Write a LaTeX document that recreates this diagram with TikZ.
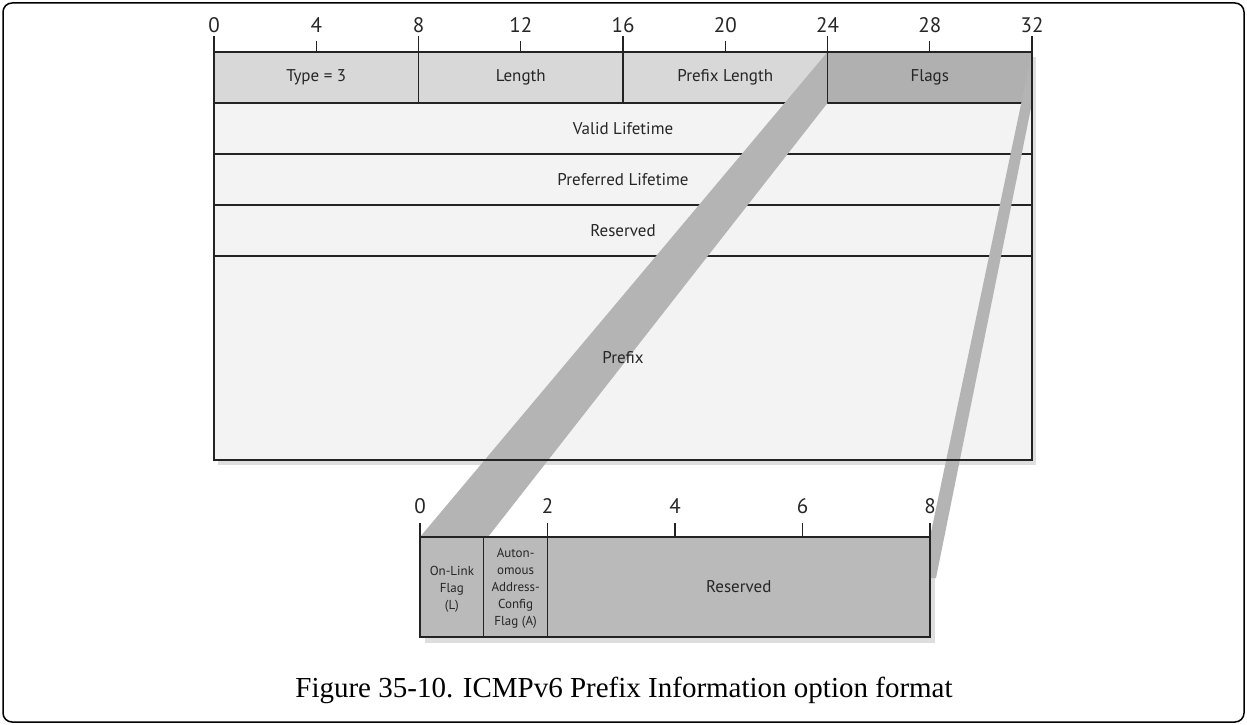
\documentclass[tikz,border=0pt]{standalone}
\usepackage{fontspec}
\setmainfont{Liberation Serif}
\newfontfamily\diagfont{PT Sans}
\definecolor{linec}{RGB}{35,35,35}
\definecolor{hdrfill}{RGB}{216,216,216}
\definecolor{flagfill}{RGB}{176,176,176}
\definecolor{rowfill}{RGB}{243,243,243}
\definecolor{bandfill}{RGB}{180,180,180}
\definecolor{botfill}{RGB}{186,186,186}
\definecolor{shadowc}{RGB}{222,222,222}
\begin{document}
\begin{tikzpicture}[x=1pt,y=-1pt,
  cellbox/.style={draw=linec, line width=1.1pt, inner sep=0pt, outer sep=0pt,
    font=\diagfont\fontsize{17}{20}\selectfont, text=black!85},
  hdrcell/.style={cellbox, fill=hdrfill, minimum height=51pt},
  rowcell/.style={cellbox, fill=rowfill, minimum width=818pt},
  rowlab/.style={font=\diagfont\fontsize{17}{20}\selectfont, text=black!85, inner sep=0pt},
  botcell/.style={cellbox, fill=botfill, minimum height=100pt},
  smalltxt/.style={font=\diagfont\fontsize{13}{17}\selectfont, align=center, text=black!85},
  ticklab/.style={font=\diagfont\fontsize{21}{24}\selectfont, text=black!85, inner sep=0pt},
  ticklin/.style={draw=linec, line width=1.4pt},
  band/.style={fill=bandfill, draw=none},
  shadowbox/.style={fill=shadowc, draw=none}]
\useasboundingbox (0,0) rectangle (1247,725);
% outer frame
\draw[line width=1.5pt, rounded corners=9pt] (3,3) rectangle (1244,722);

% shadows
\fill[shadowbox] (218,57) rectangle (1036,465);
\fill[shadowbox] (425,542) rectangle (935,643);

% top header cells
\node[hdrcell, minimum width=204.5pt] (type) at (316.25,77.5) {Type = 3};
\node[hdrcell, minimum width=204.5pt] (len) at (520.75,77.5) {Length};
\node[hdrcell, minimum width=204.5pt] (plen) at (725.25,77.5) {Prefix Length};
\node[hdrcell, fill=flagfill, minimum width=204.5pt] (flags) at (929.75,77.5) {Flags};
% rows
\node[rowcell, minimum height=51pt] (valid) at (623,128.5) {};
\node[rowcell, minimum height=51pt] (pref) at (623,179.5) {};
\node[rowcell, minimum height=51pt] (resv) at (623,230.5) {};
\node[rowcell, minimum height=204pt] (prefix) at (623,358) {};

% bottom cell coordinates (for bands)
\coordinate (lnw) at (420,537);
\coordinate (anw) at (488,537);
\coordinate (rne) at (930,537);
\coordinate (tip) at (936,578);
\coordinate (tipb) at (930,578);

% bands
\fill[band] (flags.north west) -- (flags.south west) -- (anw) -- (lnw) -- cycle;
\fill[band] (flags.north east) -- (flags.south east) -- (tip) -- (tipb) -- (rne) -- cycle;

% row labels above the bands
\node[rowlab] (validl) at (valid.center) {Valid Lifetime};
\node[rowlab] (prefl) at (pref.center) {Preferred Lifetime};
\node[rowlab] (resvl) at (resv.center) {Reserved};
\node[rowlab] (prefixl) at (prefix.center) {Prefix};

% redraw lines on top of bands
\draw[linec, line width=1.1pt] (flags.north west) -- (flags.south west);
\draw[linec, line width=1.6pt] (type.north west) -- (flags.north east) -- (prefix.south east) -- (prefix.south west) -- cycle;

% top ticks
\foreach \b in {0,8,16,24,32} {
  \draw[ticklin] ({214+25.5625*\b},36) -- ({214+25.5625*\b},52);
  \node[ticklab] (tl\b) at ({214+25.5625*\b},25) {\b};
}
\foreach \b in {4,12,20,28} {
  \draw[ticklin] ({214+25.5625*\b},41) -- ({214+25.5625*\b},52);
  \node[ticklab] (tl\b) at ({214+25.5625*\b},25) {\b};
}

% bottom box
\node[botcell, minimum width=63.75pt] (lcell) at (451.875,587) {};
\node[botcell, minimum width=63.75pt] (acell) at (515.625,587) {};
\node[botcell, minimum width=382.5pt] (rcell) at (738.75,587) {Reserved};
\node[smalltxt] (ltxt) at (lcell.center) [yshift=-2pt] {On-Link\\Flag\\(L)};
\node[smalltxt] (atxt) at (acell.center) [yshift=-1pt] {Auton-\\omous\\Address-\\Config\\Flag (A)};
\draw[linec, line width=1.6pt] (lcell.north west) -- (rcell.north east) -- (rcell.south east) -- (lcell.south west) -- cycle;

% bottom ticks
\foreach \b in {0,2,4,6,8} {
  \draw[ticklin] ({420+63.75*\b},523) -- ({420+63.75*\b},537);
  \node[ticklab] (bl\b) at ({420+63.75*\b},506) {\b};
}

% caption
\node[font=\fontsize{29}{34}\selectfont, anchor=base, inner sep=0pt] (cap) at (624,697) {Figure 35-10. ICMPv6 Prefix Information option format};
\end{tikzpicture}
\end{document}
